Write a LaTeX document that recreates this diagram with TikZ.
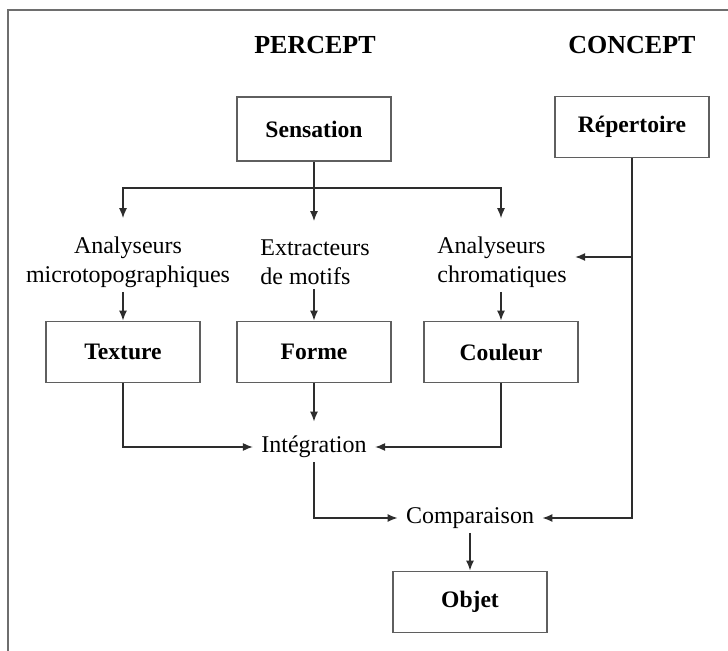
\documentclass[tikz,border=0pt]{standalone}
\usepackage{fontspec}
\setmainfont{Liberation Serif}
\usetikzlibrary{arrows.meta,calc}
\definecolor{linegray}{RGB}{45,45,45}
\definecolor{boxgray}{RGB}{95,95,95}
\definecolor{framegray}{RGB}{110,110,110}
\tikzset{
	box/.style={draw=boxgray, line width=0.9pt, minimum width=77pt, minimum height=30.5pt, inner sep=0pt, font=\fontsize{11.8}{14}\selectfont\bfseries},
	txt/.style={inner xsep=4pt, inner ysep=2pt, font=\fontsize{12}{14.5}\selectfont},
	head/.style={font=\fontsize{13}{15}\selectfont\bfseries},
	line/.style={draw=linegray, line width=0.75pt},
	arr/.style={line, -{Latex[length=5pt,width=4pt]}}
}

\begin{document}
\begin{tikzpicture}[x=0.5pt,y=-0.5pt]
	\useasboundingbox (0,0) rectangle (728,651);
	\draw[framegray, line width=1pt] (8,651) -- (8,10) -- (728,10);

	% headings
	\node[head] (percept) at (315,45) {PERCEPT};
	\node[head] (concept) at (632,45) {CONCEPT};

	% boxes
	\node[box, minimum height=32pt] (sensation) at (314,129) {Sensation};
	\node[box] (repertoire) at (632,127) {Répertoire};
	\node[box] (texture) at (123,352) {Texture};
	\node[box] (forme) at (314,352) {Forme};
	\node[box] (couleur) at (501,352) {Couleur};
	\node[box] (objet) at (470,602) {Objet};

	% analysers
	\node[txt, align=center] (microtopo) at (128,262) {Analyseurs\\microtopographiques};
	\node[txt, align=left, anchor=west] (motifs) at (252,262) {Extracteurs\\de motifs};
	\node[txt, align=left, anchor=west] (chroma) at (429,262) {Analyseurs\\chromatiques};
	\node[txt] (integr) at (314,447) {Intégration};
	\node[txt] (compar) at (470,518) {Comparaison};

	\coordinate (split) at (314,188);
	\coordinate (branch) at (632,257);

	\draw[line] (sensation) -- (split);
	\draw[arr, shorten >=7pt] (split) -| (texture |- microtopo.north);
	\draw[arr, shorten >=7pt] (split) -- (forme |- motifs.north);
	\draw[arr, shorten >=7pt] (split) -| (couleur |- chroma.north);

	\draw[arr] (texture |- microtopo.south) -- (texture);
	\draw[arr] (forme |- motifs.south) -- (forme);
	\draw[arr] (couleur |- chroma.south) -- (couleur);

	\draw[arr] (texture) |- (integr);
	\draw[arr, shorten >=5pt] (forme) -- (integr);
	\draw[arr] (couleur) |- (integr);

	\draw[arr] (integr) |- (compar);
	\draw[arr] (repertoire) |- (compar);
	\draw[arr] (branch) -- (chroma.east |- branch);
	\draw[arr] (compar) -- (objet);
\end{tikzpicture}
\end{document}
